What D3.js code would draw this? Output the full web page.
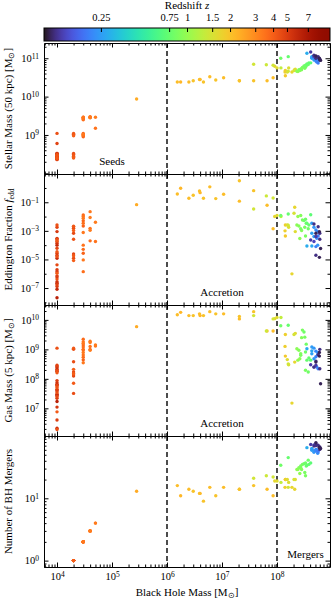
<!DOCTYPE html>
<html>
<head>
<meta charset="utf-8">
<script src="https://cdn.jsdelivr.net/npm/d3@7"></script>
<style>
body { margin: 0; background: #fff; }
svg text { font-family: "Liberation Serif", "Times New Roman", serif; fill: #000; }
</style>
</head>
<body>
<svg id="chart" width="332" height="600"></svg>
<script>
// one entry per black hole snapshot (seeds -> accretion -> mergers)
const bhMass = [
    1e4, 1e4, 1e4, 1e4, 1e4, 1e4, 1e4, 1e4, 1e4, 1e4, 1e4, 1e4, 1e4, 1e4,
    1e4, 1e4, 1e4, 1e4, 1e4, 1e4, 1e4, 1e4, 1e4, 1e4, 1e4, 1e4, 1e4, 1e4,
    2e4, 2e4, 2e4, 2e4, 2e4, 2e4, 2e4, 2e4, 2e4, 2e4,
    3e4, 3e4, 3e4, 3e4, 3e4, 3e4, 3e4, 3e4, 3e4, 3e4, 3e4, 3e4,
    4e4, 4e4, 4e4, 4e4, 4e4,
    5e4, 5e4,
    2.8e5,
    1.54e6, 1.77e6, 2.5e6, 3.0e6, 3.9e6, 4.0e6, 4.6e6, 6.0e6, 7.7e6, 1.07e7,
    2.07e7, 2.07e7, 3.76e7, 3.76e7, 6.4e7, 6.6e7, 8.5e7, 8.5e7,
    9.1e7, 1.0e8, 1.18e8, 1.42e8, 1.4e8, 1.42e8, 1.54e8, 1.63e8, 1.87e8,
    2.04e8, 2.15e8, 2.1e8, 1.6e8,
    1.17e8, 1.6e8,
    2.3e8, 2.5e8, 2.7e8, 2.9e8, 3.1e8, 3.3e8, 3.5e8, 3.8e8, 2.8e8, 3.2e8,
    2.6e8, 3.3e8, 3.7e8, 4.1e8, 2.4e8, 2.7e8, 3.4e8,
    3.5e8, 4.3e8, 4.7e8, 5.1e8, 4.3e8, 5.5e8, 4.7e8, 5.3e8, 5.6e8, 5.5e8, 5.1e8, 4.3e8,
    4.1e8, 4.7e8, 5.1e8, 5.6e8, 5.9e8, 6.0e8, 5.1e8, 6.0e8, 4.7e8, 6.2e8, 5.1e8, 5.9e8,
];

const redshift = [
    4.4, 4.8, 5.2, 5.6, 4.5, 4.2, 5.0, 5.4, 6.0, 4.7, 4.3, 4.9, 5.5, 4.4,
    5.8, 4.6, 5.1, 5.3, 4.1, 5.0, 5.7, 4.4, 5.5, 6.2, 4.8, 5.2, 5.9, 6.4,
    4.2, 4.4, 4.5, 4.0, 4.6, 4.3, 4.7, 4.1, 4.5, 4.0,
    3.7, 3.5, 3.4, 3.8, 3.6, 3.9, 3.4, 3.5, 3.7, 3.9, 3.4, 3.6,
    3.4, 3.3, 3.5, 3.3, 3.6,
    3.3, 3.5,
    2.4,
    2.1, 2.2, 2.1, 2.0, 2.1, 2.2, 2.0, 2.1, 2.0, 2.1,
    2.0, 2.1, 2.0, 1.45, 1.4, 2.1, 1.45, 2.1,
    1.7, 1.6, 1.3, 1.8, 1.8, 1.9, 1.6, 1.55, 1.7,
    1.5, 1.6, 1.7, 1.45,
    0.8, 0.75,
    0.95, 0.9, 0.85, 0.85, 0.8, 0.8, 0.75, 0.75, 0.9, 0.85,
    0.95, 0.85, 0.8, 0.7, 1.0, 0.9, 0.8,
    0.28, 0.25, 0.24, 0.22, 0.26, 0.23, 0.25, 0.22, 0.2, 0.24, 0.21, 0.27,
    0.13, 0.12, 0.11, 0.12, 0.11, 0.12, 0.13, 0.12, 0.14, 0.11, 0.12, 0.11,
];

const stellarMass = [
    1.1e9, 6.0e8, 3.3e8, 3.1e8, 3.0e8, 2.9e8, 2.8e8, 2.7e8, 2.6e8, 2.5e8, 2.4e8, 2.3e8, 3.2e8, 3.0e8,
    2.9e8, 2.8e8, 2.7e8, 2.6e8, 2.5e8, 2.4e8, 3.3e8, 3.1e8, 2.9e8, 2.7e8, 2.5e8, 2.3e8, 2.8e8, 2.6e8,
    1.1e9, 1.05e9, 1.0e9, 9.5e8, 3.3e8, 3.1e8, 3.0e8, 2.8e8, 2.6e8, 2.5e8,
    2.9e9, 2.8e9, 2.7e9, 2.6e9, 2.5e9, 1.1e9, 1.05e9, 1.0e9, 9.5e8, 9.0e8, 2.9e9, 1.0e9,
    2.9e9, 2.8e9, 3.0e9, 2.9e9, 2.85e9,
    2.9e9, 1.5e9,
    8.7e9,
    2.4e10, 2.4e10, 2.4e10, 2.6e10, 2.8e10, 2.8e10, 2.4e10, 3.3e10, 2.7e10, 3.1e10,
    2.6e10, 2.6e10, 2.6e10, 7.0e10, 6.8e10, 2.6e10, 6.6e10, 3.1e10,
    6.2e10, 5.6e10, 5.6e10, 4.8e10, 4.4e10, 3.5e10, 4.4e10, 5.6e10, 4.4e10,
    4.8e10, 5.2e10, 5.0e10, 4.6e10,
    1.0e11, 1.1e11,
    4.6e10, 5.0e10, 5.2e10, 5.8e10, 6.3e10, 6.6e10, 7.1e10, 7.6e10, 5.0e10, 5.5e10,
    4.8e10, 6.0e10, 6.9e10, 7.6e10, 4.5e10, 5.2e10, 6.3e10,
    1.35e11, 1.05e11, 1.0e11, 9.5e10, 1.0e11, 8.5e10, 9.0e10, 8.0e10, 7.5e10, 9.0e10, 8.5e10, 1.1e11,
    1.45e11, 1.2e11, 1.15e11, 1.1e11, 1.0e11, 9.5e10, 1.05e11, 9.0e10, 1.1e11, 8.8e10, 1.0e11, 9.5e10,
];

const eddFrac = [
    2.6e-3, 1.8e-3, 8.9e-4, 3.0e-4, 2.6e-4, 2.0e-4, 1.8e-4, 1.35e-4, 1.0e-4, 6.0e-5, 3.5e-5, 2.7e-5, 2.0e-5, 1.6e-5,
    1.2e-5, 4.2e-6, 1.9e-6, 1.4e-6, 1.1e-6, 7.1e-7, 5.8e-7, 4.2e-7, 2.8e-7, 2.2e-7, 1.7e-7, 1.3e-7, 8.3e-8, 2.1e-8,
    2.1e-3, 1.9e-3, 1.5e-3, 1.05e-3, 6.8e-4, 2.6e-4, 2.4e-5, 1.8e-5, 1.2e-5, 8.3e-6,
    1.3e-2, 1.0e-2, 7.6e-3, 5.1e-3, 3.4e-3, 2.2e-3, 7.6e-4, 1.0e-4, 5.1e-5, 2.7e-5, 9.3e-6, 1.4e-6,
    2.2e-2, 8.5e-3, 1.5e-3, 1.1e-3, 2.0e-4,
    4.0e-3, 1.8e-4,
    6.8e-2,
    0.38, 0.95, 0.19, 0.31, 0.62, 0.47, 0.19, 1.2, 0.18, 0.36,
    3.2, 0.12, 0.65, 0.034, 0.28, 0.062, 0.2, 1.4e-3,
    1.0e-2, 1.2e-2, 1.0e-2, 2.6e-3, 1.0e-3, 4.4e-4, 2.6e-3, 1.8e-3, 9.8e-7,
    1.7e-2, 8.9e-4, 4.5e-2, 2.5e-3,
    1.2e-2, 1.5e-2,
    2.6e-3, 2.2e-3, 1.4e-3, 5.8e-3, 5.2e-3, 6.5e-3, 3.4e-3, 2.6e-3, 1.05e-3, 1.8e-3,
    2.9e-4, 4.4e-4, 1.4e-3, 1.35e-2, 1.0e-2, 1.2e-2, 3.4e-3,
    8.7e-5, 3.4e-3, 1.8e-3, 1.15e-3, 6.8e-4, 8.9e-4, 4.0e-4, 3.0e-4, 4.4e-4, 1.0e-4, 7.9e-5, 8.7e-5,
    2.3e-4, 3.0e-3, 6.8e-4, 1.95e-3, 8.9e-4, 6.8e-4, 4.0e-4, 2.6e-4, 1.8e-4, 5.8e-5, 1.95e-5, 1.4e-5,
];

const gasMass = [
    1.1e9, 2.9e8, 2.6e8, 2.1e8, 1.9e8, 1.6e8, 8.7e7, 7.4e7, 6.5e7, 5.8e7, 5.1e7, 4.4e7, 3.9e7, 3.4e7,
    2.8e7, 2.5e7, 2.2e7, 1.1e7, 7.6e6, 4.0e6, 2.1e6, 1.9e6, 2.4e8, 1.8e8, 6.0e7, 4.2e7, 3.0e7, 1.7e7,
    1.1e9, 1.0e9, 3.8e8, 2.1e8, 1.7e8, 1.45e8, 1.25e8, 7.1e7, 3.2e7, 1.5e8,
    2.2e9, 1.8e9, 1.6e9, 1.4e9, 1.2e9, 9.5e8, 7.8e8, 6.5e8, 5.4e8, 4.4e8, 3.5e8, 1.0e9,
    1.9e9, 1.7e9, 1.25e9, 9.3e8, 1.0e9,
    1.4e9, 1.3e9,
    5.9e9,
    1.5e10, 1.8e10, 1.4e10, 1.4e10, 1.6e10, 1.4e10, 1.4e10, 1.9e10, 1.6e10, 1.6e10,
    1.3e10, 1.08e10, 1.9e10, 1.4e10, 4.2e9, 4.2e9, 1.08e10, 4.2e9,
    1.1e10, 1.2e10, 1.2e10, 3.2e9, 1.26e9, 5.9e8, 4.5e8, 3.0e8, 1.5e7,
    3.2e9, 3.5e9, 3.7e8, 3.2e8,
    6.3e9, 6.6e9,
    1.05e9, 9.3e8, 6.3e8, 4.5e9, 3.9e9, 8.1e8, 4.3e8, 5.1e8, 2.5e9, 2.6e9,
    4.8e8, 1.95e8, 1.7e8, 4.3e8, 4.3e8, 7.1e8, 1.5e9,
    1.05e9, 1.2e9, 1.1e9, 8.7e8, 7.1e8, 6.6e8, 4.8e8, 2.5e8, 2.2e8, 7.9e8, 5.6e8, 8.9e8,
    3.0e8, 2.5e8, 3.7e8, 6.6e8, 5.9e8, 1.0e9, 2.9e8, 2.2e8, 2.5e8, 6.8e7, 4.0e8, 7.9e8,
];

const nMergers = [
    0, 0, 0, 0, 0, 0, 0, 0, 0, 0, 0, 0, 0, 0,
    0, 0, 0, 0, 0, 0, 0, 0, 0, 0, 0, 0, 0, 0,
    1, 1, 1, 1, 1, 1, 1, 1, 1, 1,
    2, 2, 2, 2, 2, 2, 2, 2, 2, 2, 2, 2,
    3, 3, 3, 3, 3,
    4, 4,
    13,
    16, 11, 14, 13, 12, 12, 9, 15, 11, 15,
    14, 14, 16, 21, 23, 14, 22, 11,
    19, 19, 18, 20, 15, 20, 20, 18, 15,
    20, 20, 14, 15,
    34, 45,
    29, 31, 33, 35, 36, 37, 34, 35, 29, 26,
    25, 23, 41, 37, 29, 31, 33,
    65, 59, 55, 61, 62, 53, 58, 60, 56, 57, 58, 63,
    73, 69, 78, 71, 65, 61, 76, 67, 72, 63, 70, 66,
];

const colorbarTicks = [0.25, 0.75, 1, 1.5, 2, 3, 4, 5, 7];
const xTickValues = [1e4, 1e5, 1e6, 1e7, 1e8];
const regimeEdges = [1e6, 1e8];

const svg = d3.select('#chart');
const margin = { left: 44, right: 2, top: 43 };
const panelW = 286;
const panelH = 131;
const majorLen = 4.5;
const minorLen = 2.5;

const x = d3.scaleLog().domain([5.8e3, 9.2e8]).range([0, panelW]);
const zScale = d3.scaleLog().domain([0.1, 10]).range([0, 1]);
const color = (z) => d3.interpolateTurbo(zScale(z));

const points = bhMass.map((m, i) => ({
    m,
    z: redshift[i],
    stellar: stellarMass[i],
    edd: eddFrac[i],
    gas: gasMass[i],
    mergers: nMergers[i],
}));
// earliest snapshots underneath, latest on top
points.sort((a, b) => b.z - a.z);

function minorsFor(domain, mults) {
    const out = [];
    const lo = Math.floor(Math.log10(domain[0]));
    const hi = Math.ceil(Math.log10(domain[1]));
    for (let e = lo; e <= hi; e++) {
        mults.forEach((k) => {
            const v = k * Math.pow(10, e);
            if (v >= domain[0] && v <= domain[1]) out.push(v);
        });
    }
    return out;
}

function powLabel(text) {
    text.text(null).each(function (d) {
        const e = Math.round(Math.log10(d));
        const t = d3.select(this);
        t.append('tspan').text('10');
        t.append('tspan')
            .attr('dy', '-0.48em')
            .style('font-size', '7.5px')
            .text(e < 0 ? '\u2212' + -e : String(e));
    });
}

function massUnit(sel, before) {
    sel.append('tspan').text(before + '[M');
    sel.append('tspan').attr('dy', '0.3em').style('font-size', '8px').text('\u2299');
    sel.append('tspan').attr('dy', '-0.3em').text(']');
}

const panels = [
    {
        key: 'stellar',
        domain: [9.6e7, 2.5e11],
        major: [1e8, 1e9, 1e10, 1e11],
        labeled: [1e9, 1e10, 1e11],
        minorMults: [2, 3, 4, 5, 6, 7, 8, 9],
        title: (t) => massUnit(t, 'Stellar Mass (50 kpc) '),
        note: 'Seeds',
        noteAt: 1e5,
    },
    {
        key: 'edd',
        domain: [6.5e-9, 9.5],
        major: [1e-7, 1e-5, 1e-3, 1e-1],
        labeled: [1e-7, 1e-5, 1e-3, 1e-1],
        minorMults: [1],
        title: (t) => {
            t.append('tspan').text('Eddington Fraction ');
            t.append('tspan').style('font-style', 'italic').text('f');
            t.append('tspan').attr('dy', '0.3em').style('font-size', '7.5px').text('edd');
        },
        note: 'Accretion',
        noteAt: 1e7,
    },
    {
        key: 'gas',
        domain: [1.15e6, 3.2e10],
        major: [1e7, 1e8, 1e9, 1e10],
        labeled: [1e7, 1e8, 1e9, 1e10],
        minorMults: [2, 3, 4, 5, 6, 7, 8, 9],
        title: (t) => massUnit(t, 'Gas Mass (5 kpc) '),
        note: 'Accretion',
        noteAt: 1e7,
    },
    {
        key: 'mergers',
        domain: [0.79, 100],
        major: [1, 10],
        labeled: [1, 10],
        minorMults: [2, 3, 4, 5, 6, 7, 8, 9],
        title: (t) => t.text('Number of BH Mergers'),
        note: 'Mergers',
        noteAt: 3.3e8,
    },
];

const xMinor = minorsFor(x.domain(), [2, 3, 4, 5, 6, 7, 8, 9]);

function styleAxis(g) {
    g.attr('font-family', null).attr('font-size', null);
    g.selectAll('text').style('font-size', '10.5px');
}

panels.forEach((p, i) => {
    const top = margin.top + i * panelH;
    const g = svg.append('g').attr('transform', `translate(${margin.left},${top})`);
    const y = d3.scaleLog().domain(p.domain).range([panelH, 0]);
    const minor = minorsFor(p.domain, p.minorMults).filter((v) => !p.major.includes(v));
    const isLast = i === panels.length - 1;

    // regime boundaries
    g.selectAll('.edge')
        .data(regimeEdges)
        .enter()
        .append('line')
        .attr('x1', (d) => x(d))
        .attr('x2', (d) => x(d))
        .attr('y1', 0)
        .attr('y2', panelH)
        .attr('stroke', '#000')
        .attr('stroke-width', 1.4)
        .attr('stroke-dasharray', '5,3');

    const shown = p.key === 'mergers' ? points.filter((d) => d.mergers > 0) : points;
    g.selectAll('.pt')
        .data(shown)
        .enter()
        .append('circle')
        .attr('class', 'pt')
        .attr('cx', (d) => x(d.m))
        .attr('cy', (d) => y(d[p.key]))
        .attr('r', 1.7)
        .attr('fill', (d) => color(d.z));

    // minor ticks
    g.append('g').call(d3.axisLeft(y).tickValues(minor).tickSizeInner(-minorLen).tickSizeOuter(0).tickFormat(''))
        .call((a) => a.select('.domain').remove());
    g.append('g').attr('transform', `translate(${panelW},0)`)
        .call(d3.axisRight(y).tickValues(minor).tickSizeInner(-minorLen).tickSizeOuter(0).tickFormat(''))
        .call((a) => a.select('.domain').remove());
    g.append('g').call(d3.axisTop(x).tickValues(xMinor).tickSizeInner(-minorLen).tickSizeOuter(0).tickFormat(''))
        .call((a) => a.select('.domain').remove());
    g.append('g').attr('transform', `translate(0,${panelH})`)
        .call(d3.axisBottom(x).tickValues(xMinor).tickSizeInner(-minorLen).tickSizeOuter(0).tickFormat(''))
        .call((a) => a.select('.domain').remove());

    // major ticks + frame
    const left = g.append('g')
        .call(d3.axisLeft(y).tickValues(p.major).tickSizeInner(-majorLen).tickSizeOuter(0).tickPadding(5))
        .call(styleAxis);
    left.selectAll('.tick text').filter((d) => !p.labeled.includes(d)).remove();
    left.selectAll('.tick text').call(powLabel);

    g.append('g').attr('transform', `translate(${panelW},0)`)
        .call(d3.axisRight(y).tickValues(p.major).tickSizeInner(-majorLen).tickSizeOuter(0).tickFormat(''));
    g.append('g')
        .call(d3.axisTop(x).tickValues(xTickValues).tickSizeInner(-majorLen).tickSizeOuter(0).tickFormat(''));
    const bottom = g.append('g').attr('transform', `translate(0,${panelH})`)
        .call(d3.axisBottom(x).tickValues(xTickValues).tickSizeInner(-majorLen).tickSizeOuter(0).tickPadding(6))
        .call(styleAxis);
    if (isLast) {
        bottom.selectAll('.tick text').call(powLabel);
    } else {
        bottom.selectAll('.tick text').remove();
    }

    g.append('text')
        .attr('x', x(p.noteAt))
        .attr('y', panelH - 9)
        .attr('text-anchor', 'middle')
        .style('font-size', '11px')
        .text(p.note);

    const title = svg.append('text')
        .attr('transform', `translate(12,${top + panelH / 2}) rotate(-90)`)
        .attr('text-anchor', 'middle')
        .style('font-size', '11px');
    p.title(title);
});

// x axis title
const xTitle = svg.append('text')
    .attr('x', margin.left + panelW / 2)
    .attr('y', 596)
    .attr('text-anchor', 'middle')
    .style('font-size', '11px');
massUnit(xTitle, 'Black Hole Mass ');

// colour bar
const cb = { y: 28, h: 13 };
const cbX = d3.scaleLog().domain([0.1, 10]).range([0, panelW]);
const grad = svg.append('defs').append('linearGradient').attr('id', 'turbo');
grad.selectAll('stop')
    .data(d3.range(0, 1.0001, 0.02))
    .enter()
    .append('stop')
    .attr('offset', (d) => d)
    .attr('stop-color', (d) => d3.interpolateTurbo(d));

const cbG = svg.append('g').attr('transform', `translate(${margin.left},${cb.y})`);
cbG.append('rect')
    .attr('width', panelW)
    .attr('height', cb.h)
    .attr('fill', 'url(#turbo)')
    .attr('stroke', '#000')
    .attr('stroke-width', 1);
cbG.append('g')
    .call(d3.axisTop(cbX).tickValues(colorbarTicks).tickSizeInner(-4).tickSizeOuter(0).tickPadding(7.5)
        .tickFormat((d) => String(d)))
    .call(styleAxis)
    .call((a) => a.select('.domain').remove());

const cbTitle = svg.append('text')
    .attr('x', margin.left + panelW / 2)
    .attr('y', 9)
    .attr('text-anchor', 'middle')
    .style('font-size', '11px');
cbTitle.append('tspan').text('Redshift ');
cbTitle.append('tspan').style('font-style', 'italic').text('z');
</script>
</body>
</html>
